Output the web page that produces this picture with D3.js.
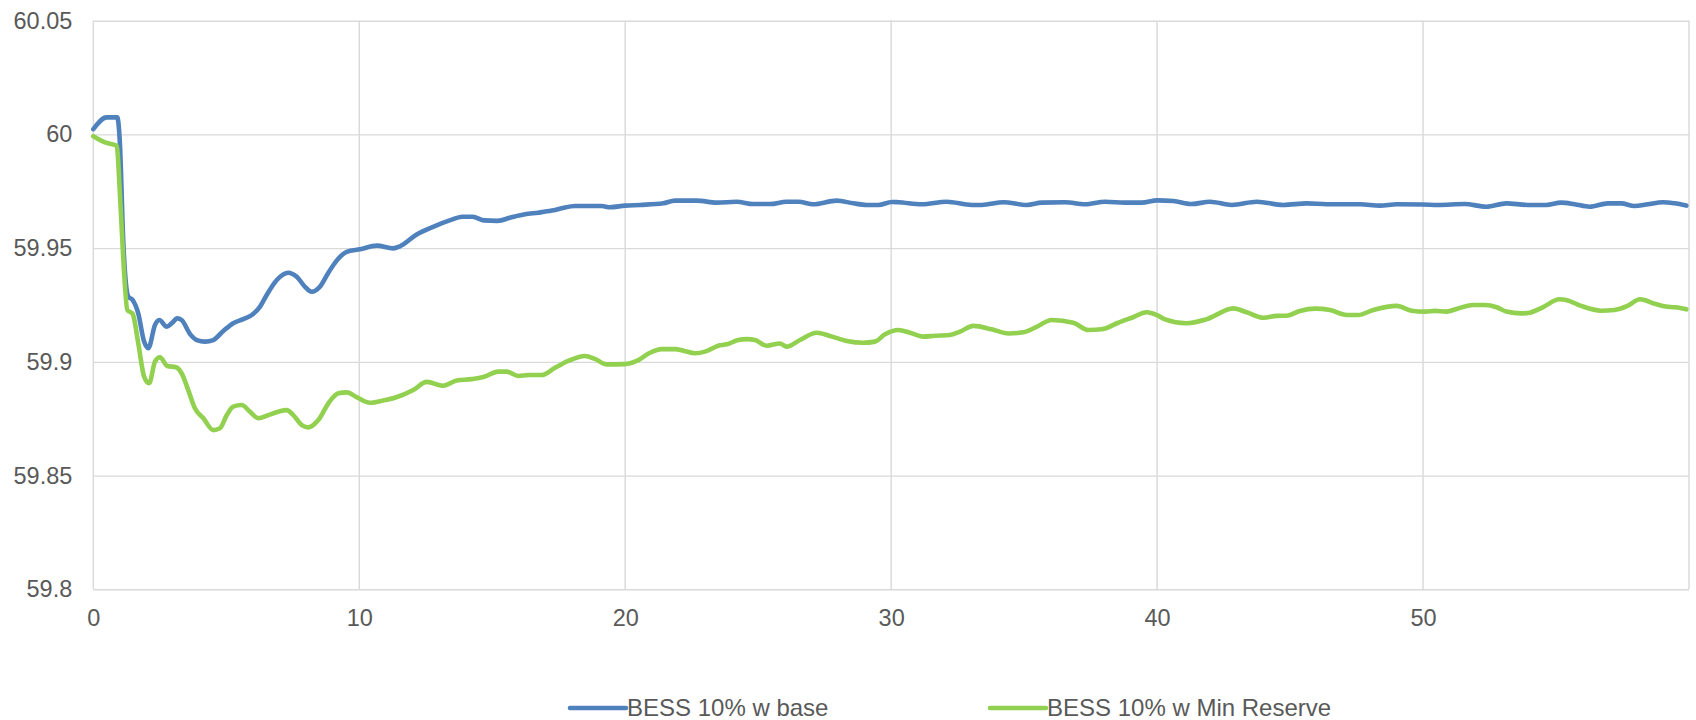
<!DOCTYPE html>
<html>
<head>
<meta charset="utf-8">
<script src="https://cdn.jsdelivr.net/npm/d3@7"></script>
<style>
  html, body { margin: 0; padding: 0; background: #ffffff; }
  svg { display: block; font-family: "Liberation Sans", Arial, sans-serif; }
</style>
</head>
<body>
<svg id="chart" width="1696" height="720"></svg>
<script>
// Frequency response (Hz) over time (s)
const seriesNames = ["BESS 10% w base", "BESS 10% w Min Reserve"];
const seriesColors = ["#4F81BD", "#92D050"];

const timeBase = [0, 0.5, 0.9, 1.0, 1.13, 1.32, 1.48, 1.69, 1.91, 2.07, 2.32, 2.48, 2.76, 2.95, 3.16, 3.32, 3.64, 3.89, 4.2, 4.51, 4.89, 5.26, 5.64, 5.96, 6.27, 6.52, 6.9, 7.33, 7.65, 7.96, 8.21, 8.52, 8.84, 9.15, 9.53, 10.03, 10.66, 11.28, 11.53, 12.16, 12.8, 13.4, 13.88, 14.26, 14.7, 15.2, 15.73, 16.23, 16.73, 17.24, 17.61, 18.11, 18.61, 19.12, 19.43, 19.99, 20.56, 21.43, 21.87, 22.69, 23.44, 24.19, 24.82, 25.44, 26.07, 26.51, 27.07, 27.95, 28.58, 29.08, 29.52, 30.03, 30.27, 31.15, 32.09, 33.03, 33.41, 34.22, 35.1, 35.66, 36.54, 37.29, 38.04, 38.79, 39.42, 40.0, 40.61, 41.3, 41.99, 42.81, 43.75, 44.75, 45.63, 46.38, 47.63, 48.38, 49.01, 50.0, 50.56, 51.56, 52.38, 53.13, 53.94, 54.63, 55.19, 55.7, 56.26, 56.95, 57.45, 57.95, 58.45, 59.02, 59.45, 59.9];
const freqBase = [60.0023, 60.0075, 60.0075, 59.9961, 59.952, 59.9286, 59.9272, 59.9213, 59.9089, 59.906, 59.9162, 59.9184, 59.9155, 59.917, 59.9191, 59.9184, 59.9122, 59.9096, 59.9089, 59.9096, 59.9136, 59.917, 59.9188, 59.9206, 59.9243, 59.9294, 59.936, 59.9392, 59.9374, 59.933, 59.9308, 59.933, 59.9392, 59.9445, 59.9484, 59.9495, 59.9511, 59.9499, 59.9508, 59.956, 59.9595, 59.9622, 59.9638, 59.9638, 59.9622, 59.962, 59.9636, 59.9649, 59.9656, 59.9665, 59.9675, 59.9685, 59.9685, 59.9685, 59.968, 59.9687, 59.969, 59.9697, 59.9709, 59.9709, 59.97, 59.9704, 59.9694, 59.9694, 59.9704, 59.9704, 59.9693, 59.9709, 59.9697, 59.969, 59.969, 59.9703, 59.9702, 59.9693, 59.9704, 59.969, 59.969, 59.9702, 59.969, 59.97, 59.9702, 59.9693, 59.9704, 59.97, 59.97, 59.971, 59.9707, 59.9694, 59.9704, 59.969, 59.9704, 59.969, 59.9697, 59.9693, 59.9693, 59.9687, 59.9693, 59.9692, 59.969, 59.9694, 59.9682, 59.9697, 59.969, 59.969, 59.97, 59.9693, 59.9682, 59.9697, 59.9697, 59.9685, 59.9693, 59.9702, 59.9697, 59.9687];

const timeMinRes = [0, 0.44, 0.88, 1.0, 1.13, 1.28, 1.48, 1.69, 1.91, 2.1, 2.32, 2.51, 2.78, 3.11, 3.32, 3.57, 3.82, 4.14, 4.51, 4.76, 5.02, 5.26, 5.58, 5.89, 6.21, 6.58, 6.96, 7.27, 7.52, 7.84, 8.09, 8.46, 8.84, 9.21, 9.53, 9.9, 10.4, 10.97, 11.34, 12.03, 12.54, 13.16, 13.66, 14.23, 14.67, 15.23, 15.54, 15.98, 16.36, 16.86, 17.36, 17.86, 18.49, 18.86, 19.3, 19.99, 20.43, 20.93, 21.37, 21.87, 22.19, 22.63, 23.0, 23.5, 23.82, 24.25, 24.57, 24.88, 25.32, 25.82, 26.07, 26.57, 27.2, 27.7, 28.33, 28.95, 29.39, 29.77, 30.27, 30.71, 31.21, 31.65, 32.21, 32.59, 33.09, 33.78, 34.41, 34.97, 35.41, 36.04, 36.85, 37.41, 37.91, 38.54, 39.05, 39.61, 40.0, 40.3, 41.09, 41.87, 42.87, 43.37, 44.0, 44.5, 44.87, 45.37, 45.94, 46.5, 47.13, 47.56, 48.13, 49.01, 49.57, 50.07, 50.44, 50.88, 51.32, 51.89, 52.33, 52.77, 53.13, 53.69, 54.0, 54.5, 55.13, 55.38, 55.94, 56.69, 57.19, 57.69, 58.16, 58.75, 59.13, 59.5, 59.9];
const freqMinRes = [59.9992, 59.9965, 59.995, 59.9741, 59.9448, 59.9228, 59.9211, 59.9082, 59.8935, 59.8906, 59.9001, 59.902, 59.8982, 59.8976, 59.895, 59.8876, 59.8796, 59.8752, 59.87, 59.8708, 59.8766, 59.8803, 59.881, 59.8781, 59.8752, 59.8766, 59.8781, 59.8788, 59.8766, 59.8722, 59.8712, 59.8744, 59.8818, 59.8862, 59.8866, 59.8845, 59.882, 59.8832, 59.8842, 59.8876, 59.8912, 59.8895, 59.8918, 59.8924, 59.8933, 59.8957, 59.8957, 59.8938, 59.8942, 59.8942, 59.8974, 59.9004, 59.9026, 59.9013, 59.8989, 59.899, 59.9004, 59.904, 59.9056, 59.9056, 59.9049, 59.9038, 59.9045, 59.9071, 59.9077, 59.9096, 59.91, 59.9096, 59.9071, 59.9081, 59.9067, 59.9096, 59.9128, 59.9114, 59.9092, 59.9084, 59.9089, 59.9121, 59.914, 59.9128, 59.9111, 59.9115, 59.9118, 59.9133, 59.9158, 59.9143, 59.9125, 59.913, 59.915, 59.9184, 59.9172, 59.914, 59.9143, 59.9172, 59.9194, 59.9218, 59.9205, 59.9187, 59.917, 59.9188, 59.9235, 59.9218, 59.9194, 59.9202, 59.9203, 59.9224, 59.9234, 59.9228, 59.9206, 59.9206, 59.9228, 59.9246, 59.9225, 59.9221, 59.9224, 59.9221, 59.9235, 59.925, 59.925, 59.924, 59.9221, 59.9213, 59.9216, 59.924, 59.9275, 59.9272, 59.9246, 59.9225, 59.9228, 59.9246, 59.9275, 59.9254, 59.9243, 59.924, 59.9231];

const xTickLabels = [0, 10, 20, 30, 40, 50];
const xGridValues = [0, 10, 20, 30, 40, 50, 60];
const yTickLabels = [59.8, 59.85, 59.9, 59.95, 60, 60.05];

const svg = d3.select("#chart");
const plotLeft = 93.3, plotRight = 1689, plotTop = 20.7, plotBottom = 589.3;

const x = d3.scaleLinear().domain([0, 60]).range([plotLeft, plotRight]);
const y = d3.scaleLinear().domain([59.8, 60.05]).range([plotBottom, plotTop]);

const gridColor = "#D9D9D9";
const textColor = "#595959";

// vertical gridlines (including right border of plot)
svg.append("g")
  .selectAll("line")
  .data(xGridValues)
  .join("line")
  .attr("x1", d => x(d)).attr("x2", d => x(d))
  .attr("y1", plotTop).attr("y2", plotBottom)
  .attr("stroke", gridColor).attr("stroke-width", 1.4);

// y axis with horizontal gridlines
const yAxis = svg.append("g")
  .attr("transform", `translate(${plotLeft},0)`)
  .call(d3.axisLeft(y).tickValues(yTickLabels).tickFormat(d3.format("~g"))
    .tickSize(-(plotRight - plotLeft)).tickPadding(21));
yAxis.select(".domain").remove();
yAxis.selectAll(".tick line").attr("stroke", gridColor).attr("stroke-width", 1.4);
yAxis.selectAll(".tick text").attr("fill", textColor).attr("font-size", 23.5);

// x axis labels
const xAxis = svg.append("g")
  .attr("transform", `translate(0,${plotBottom})`)
  .call(d3.axisBottom(x).tickValues(xTickLabels).tickFormat(d3.format("d"))
    .tickSize(0).tickPadding(20.5));
xAxis.select(".domain").remove();
xAxis.selectAll(".tick text").attr("fill", textColor).attr("font-size", 23.5);

// series lines
const seriesData = [
  d3.zip(timeBase, freqBase),
  d3.zip(timeMinRes, freqMinRes)
];
const line = d3.line()
  .x(d => x(d[0]))
  .y(d => y(d[1]))
  .curve(d3.curveMonotoneX);

svg.append("g")
  .selectAll("path")
  .data(seriesData)
  .join("path")
  .attr("d", line)
  .attr("fill", "none")
  .attr("stroke", (d, i) => seriesColors[i])
  .attr("stroke-width", 4.6)
  .attr("stroke-linejoin", "round")
  .attr("stroke-linecap", "round");

// legend
const legendX = [570, 990];
const legendY = 708;
const legend = svg.append("g")
  .selectAll("g")
  .data(seriesNames)
  .join("g")
  .attr("transform", (d, i) => `translate(${legendX[i]},${legendY})`);
legend.append("line")
  .attr("x1", 0).attr("x2", 56)
  .attr("stroke", (d, i) => seriesColors[i])
  .attr("stroke-width", 4.6)
  .attr("stroke-linecap", "round");
legend.append("text")
  .attr("x", 57)
  .attr("dy", "0.35em")
  .attr("fill", textColor)
  .attr("font-size", 24)
  .text(d => d);
</script>
</body>
</html>
